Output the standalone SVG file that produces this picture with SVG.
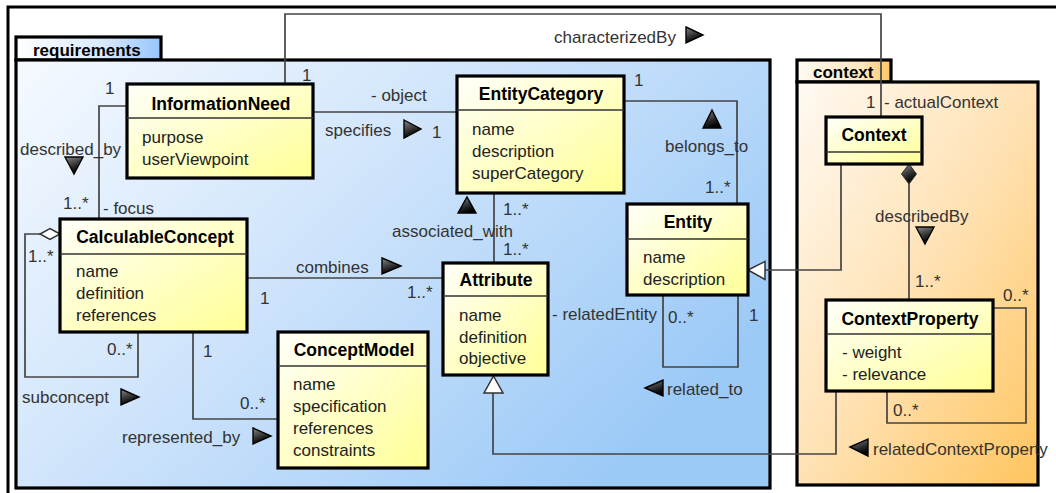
<svg xmlns="http://www.w3.org/2000/svg" width="1056" height="493" viewBox="0 0 1056 493">
<defs>
  <linearGradient id="gReq" x1="0" y1="0" x2="1" y2="0.6">
    <stop offset="0" stop-color="#f6faff"/>
    <stop offset="0.5" stop-color="#cde3fb"/>
    <stop offset="1" stop-color="#9ccaf7"/>
  </linearGradient>
  <linearGradient id="gReqTab" x1="0" y1="0" x2="1" y2="0">
    <stop offset="0" stop-color="#ffffff"/>
    <stop offset="0.6" stop-color="#d8e9fd"/>
    <stop offset="1" stop-color="#96c6fb"/>
  </linearGradient>
  <linearGradient id="gCtx" x1="0" y1="0" x2="1" y2="1">
    <stop offset="0" stop-color="#fffaf3"/>
    <stop offset="0.5" stop-color="#ffe2b4"/>
    <stop offset="1" stop-color="#ffc55e"/>
  </linearGradient>
  <linearGradient id="gCtxTab" x1="0" y1="0" x2="1" y2="0">
    <stop offset="0" stop-color="#fffaf2"/>
    <stop offset="0.7" stop-color="#ffe6bd"/>
    <stop offset="1" stop-color="#ffc460"/>
  </linearGradient>
  <linearGradient id="gCls" x1="0" y1="0" x2="1" y2="1">
    <stop offset="0" stop-color="#fffffa"/>
    <stop offset="1" stop-color="#ffff96"/>
  </linearGradient>
  <linearGradient id="gTri" x1="0" y1="0" x2="0.4" y2="1">
    <stop offset="0" stop-color="#8a8a8a"/>
    <stop offset="0.7" stop-color="#222222"/>
    <stop offset="1" stop-color="#000000"/>
  </linearGradient>
</defs>
<style>
  .frame{fill:none;stroke:#000;stroke-width:3}
  .pkg{stroke:#000;stroke-width:3.2}
  .cls{fill:url(#gCls);stroke:#000;stroke-width:3.2}
  .sep{stroke:#333;stroke-width:1.3}
  .cn{font-family:"Liberation Sans",Arial,sans-serif;font-weight:bold;font-size:17.5px;fill:#000;text-anchor:middle}
  .pn{font-family:"Liberation Sans",Arial,sans-serif;font-weight:bold;font-size:17px;fill:#000}
  .at{font-family:"Liberation Sans",Arial,sans-serif;font-size:17px;fill:#222}
  .lb{font-family:"Liberation Sans",Arial,sans-serif;font-size:17px;fill:#333}
  .ln{fill:none;stroke:#444;stroke-width:1.7}
  .tri{fill:url(#gTri);stroke:#000;stroke-width:1.4}
  .gen{fill:#fff;stroke:#333;stroke-width:1.5}
  .agg{fill:#fff;stroke:#333;stroke-width:1.5}
  .comp{fill:url(#gTri);stroke:#333;stroke-width:1}
</style>

<path class="frame" d="M8,493 V7 H1056"/>

<g id="pkg-requirements">
  <rect class="pkg" x="16" y="37" width="145" height="23" fill="url(#gReqTab)"/>
  <rect class="pkg" x="16" y="60" width="754" height="428" fill="url(#gReq)"/>
  <text class="pn" x="33" y="56">requirements</text>
</g>

<g id="pkg-context">
  <rect class="pkg" x="797" y="60" width="94" height="22" fill="url(#gCtxTab)"/>
  <rect class="pkg" x="797" y="82" width="241" height="403" fill="url(#gCtx)"/>
  <text class="pn" x="813" y="78">context</text>
</g>

<g id="connectors">
  <!-- characterizedBy -->
  <path class="ln" d="M285,84 V14 H881 V117"/>
  <text class="lb" x="554" y="43">characterizedBy</text>
  <polygon class="tri" points="686,27 703,35 686,43"/>
  <text class="lb" x="302" y="81">1</text>
  <text class="lb" x="866" y="108">1</text>
  <text class="lb" x="884" y="108">- actualContext</text>

  <!-- specifies -->
  <path class="ln" d="M313,112 H457"/>
  <text class="lb" x="371" y="101">- object</text>
  <text class="lb" x="325" y="136">specifies</text>
  <polygon class="tri" points="404,120 421,129 404,138"/>
  <text class="lb" x="432" y="138">1</text>

  <!-- described_by -->
  <path class="ln" d="M127,106 H99 V219"/>
  <text class="lb" x="105" y="94">1</text>
  <text class="lb" x="20" y="155">described_by</text>
  <polygon class="tri" points="65,157 83,157 74,174"/>
  <text class="lb" x="63" y="209">1..*</text>
  <text class="lb" x="103" y="214">- focus</text>

  <!-- subconcept -->
  <path class="ln" d="M40,234 H25 V377 H138 V332"/>
  <polygon class="agg" points="60,234 50,228.5 40,234 50,239.5"/>
  <text class="lb" x="28" y="262">1..*</text>
  <text class="lb" x="107" y="355">0..*</text>
  <text class="lb" x="22" y="403">subconcept</text>
  <polygon class="tri" points="121,389 139,397 121,405"/>

  <!-- represented_by -->
  <path class="ln" d="M193,332 V419 H278"/>
  <text class="lb" x="203" y="357">1</text>
  <text class="lb" x="240" y="409">0..*</text>
  <text class="lb" x="122" y="443">represented_by</text>
  <polygon class="tri" points="253,428 271,436 253,444"/>

  <!-- combines -->
  <path class="ln" d="M247,278 H443"/>
  <text class="lb" x="296" y="273">combines</text>
  <polygon class="tri" points="382,258 401,266 382,274"/>
  <text class="lb" x="260" y="304">1</text>
  <text class="lb" x="407" y="298">1..*</text>

  <!-- associated_with -->
  <path class="ln" d="M494,193 V263"/>
  <polygon class="tri" points="458,213 467,197 476,213"/>
  <text class="lb" x="392" y="237">associated_with</text>
  <text class="lb" x="503" y="215">1..*</text>
  <text class="lb" x="503" y="255">1..*</text>

  <!-- belongs_to -->
  <path class="ln" d="M624,101 H737 V204"/>
  <text class="lb" x="634" y="86">1</text>
  <polygon class="tri" points="703,128 712,110 721,128"/>
  <text class="lb" x="665" y="152">belongs_to</text>
  <text class="lb" x="705" y="193">1..*</text>

  <!-- related_to -->
  <path class="ln" d="M663,295 V367 H738 V295"/>
  <text class="lb" x="552" y="320">- relatedEntity</text>
  <text class="lb" x="668" y="323">0..*</text>
  <text class="lb" x="749" y="321">1</text>
  <polygon class="tri" points="645,388 663,380 663,396"/>
  <text class="lb" x="667" y="395">related_to</text>

  <!-- Context generalizes Entity -->
  <path class="ln" d="M841,164 V270 H765"/>
  <polygon class="gen" points="748,270 765,261.5 765,279.5"/>

  <!-- describedBy -->
  <path class="ln" d="M909,184 V300"/>
  <polygon class="comp" points="909,164 916.5,174 909,184 901.5,174"/>
  <text class="lb" x="875" y="222">describedBy</text>
  <polygon class="tri" points="916,227 934,227 925,244"/>
  <text class="lb" x="915" y="287">1..*</text>

  <!-- ContextProperty self loop -->
  <path class="ln" d="M993,308 H1026 V423 H887 V391"/>
  <text class="lb" x="1003" y="301">0..*</text>
  <text class="lb" x="893" y="416">0..*</text>

  <!-- relatedContextProperty -->
  <path class="ln" d="M836,391 V454 H493 V393"/>
  <polygon class="gen" points="493.5,376 503,393 484,393"/>
  <polygon class="tri" points="850,447 868,439 868,456"/>
  <text class="lb" x="873" y="455">relatedContextProperty</text>
</g>

<g id="InformationNeed">
  <rect class="cls" x="127" y="84" width="186" height="94"/>
  <line class="sep" x1="127" y1="118" x2="313" y2="118"/>
  <text class="cn" x="221" y="110">InformationNeed</text>
  <text class="at" x="142" y="143">purpose</text>
  <text class="at" x="142" y="165">userViewpoint</text>
</g>

<g id="EntityCategory">
  <rect class="cls" x="457" y="76" width="167" height="117"/>
  <line class="sep" x1="457" y1="110" x2="624" y2="110"/>
  <text class="cn" x="541" y="100">EntityCategory</text>
  <text class="at" x="472" y="135">name</text>
  <text class="at" x="472" y="157">description</text>
  <text class="at" x="472" y="179">superCategory</text>
</g>

<g id="Entity">
  <rect class="cls" x="627" y="204" width="121" height="91"/>
  <line class="sep" x1="627" y1="239" x2="748" y2="239"/>
  <text class="cn" x="688" y="228">Entity</text>
  <text class="at" x="643" y="263">name</text>
  <text class="at" x="643" y="285">description</text>
</g>

<g id="CalculableConcept">
  <rect class="cls" x="60" y="219" width="187" height="113"/>
  <line class="sep" x1="60" y1="254" x2="247" y2="254"/>
  <text class="cn" x="155" y="243">CalculableConcept</text>
  <text class="at" x="76" y="277">name</text>
  <text class="at" x="76" y="299">definition</text>
  <text class="at" x="76" y="321">references</text>
</g>

<g id="ConceptModel">
  <rect class="cls" x="278" y="332" width="150" height="136"/>
  <line class="sep" x1="278" y1="366" x2="428" y2="366"/>
  <text class="cn" x="354" y="356">ConceptModel</text>
  <text class="at" x="293" y="390">name</text>
  <text class="at" x="293" y="412">specification</text>
  <text class="at" x="293" y="434">references</text>
  <text class="at" x="293" y="456">constraints</text>
</g>

<g id="Attribute">
  <rect class="cls" x="443" y="263" width="105" height="112"/>
  <line class="sep" x1="443" y1="296" x2="548" y2="296"/>
  <text class="cn" x="496" y="286">Attribute</text>
  <text class="at" x="459" y="321">name</text>
  <text class="at" x="459" y="343">definition</text>
  <text class="at" x="459" y="364">objective</text>
</g>

<g id="Context">
  <rect class="cls" x="826" y="117" width="96" height="47"/>
  <line class="sep" x1="826" y1="152" x2="922" y2="152"/>
  <text class="cn" x="874" y="141">Context</text>
</g>

<g id="ContextProperty">
  <rect class="cls" x="826" y="300" width="167" height="91"/>
  <line class="sep" x1="826" y1="334" x2="993" y2="334"/>
  <text class="cn" x="910" y="325">ContextProperty</text>
  <text class="at" x="842" y="358">- weight</text>
  <text class="at" x="842" y="380">- relevance</text>
</g>
</svg>
